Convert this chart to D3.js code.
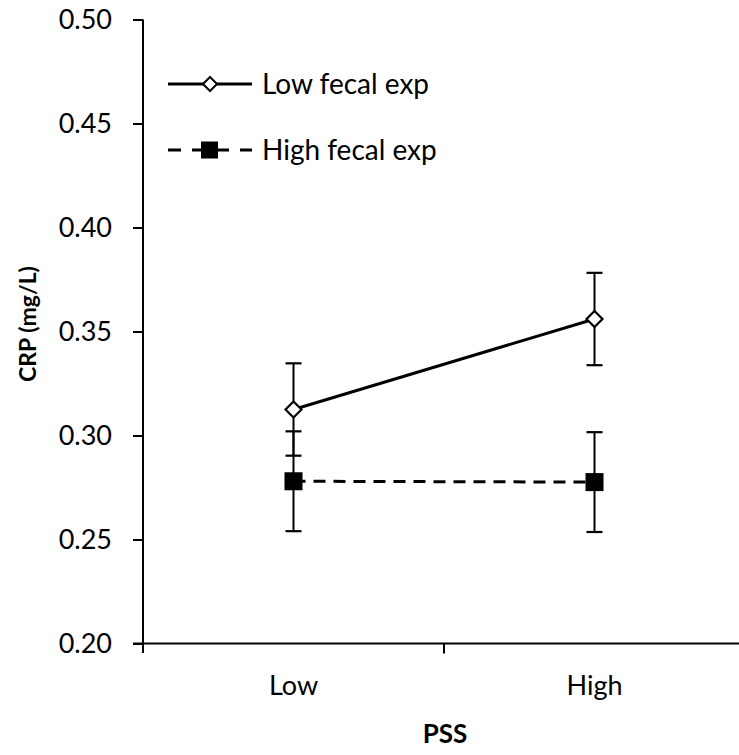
<!DOCTYPE html>
<html><head><meta charset="utf-8">
<script src="https://cdn.jsdelivr.net/npm/d3@7"></script>
<style>body{margin:0;background:#fff}</style>
</head><body>
<svg id="c" width="739" height="755"></svg>
<script>
const categories = ["Low", "High"];
const seriesNames = ["Low fecal exp", "High fecal exp"];
const lowFecal = [0.3125, 0.3560];
const lowFecalErr = [0.0222, 0.0222];
const highFecal = [0.2780, 0.2776];
const highFecalErr = [0.0240, 0.0240];
const yTicks = [0.20, 0.25, 0.30, 0.35, 0.40, 0.45, 0.50];

const svg = d3.select("#c");
const font = "Lato, 'Open Sans', sans-serif";
const x = d3.scaleBand().domain(categories).range([143, 745]);
const y = d3.scaleLinear().domain([0.20, 0.50]).range([643.5, 19.5]);

// y axis
const ya = svg.append("g").attr("transform", "translate(143,0)")
  .call(d3.axisLeft(y).tickValues(yTicks).tickFormat(d3.format(".2f")).tickSizeOuter(0).tickSize(10).tickPadding(21));
ya.select(".domain").attr("stroke-width", 2).attr("d", `M0,${y(0.5)}V653`);
ya.selectAll(".tick line").attr("stroke-width", 2);
ya.selectAll(".tick text").style("font-family", font).style("font-size", "27px").attr("fill", "#000");

// x axis
const xa = svg.append("g").attr("transform", "translate(0,643.5)");
xa.append("line").attr("x1", 133).attr("x2", 745).attr("stroke", "#000").attr("stroke-width", 2);
const bounds = [x(categories[1])];
xa.selectAll(".tk").data(bounds).join("line").attr("x1", d => d).attr("x2", d => d)
  .attr("y1", 0).attr("y2", 10).attr("stroke", "#000").attr("stroke-width", 2);
xa.selectAll(".lbl").data(categories).join("text")
  .attr("x", d => x(d) + x.bandwidth() / 2).attr("y", 51)
  .attr("text-anchor", "middle").style("font-family", font).style("font-size", "27px").text(d => d);

// axis titles
svg.append("text").attr("x", 445).attr("y", 743).attr("text-anchor", "middle")
  .style("font-family", font).style("font-weight", "bold").style("font-size", "26px").text("PSS");
svg.append("text").attr("transform", "translate(36,324) rotate(-90)").attr("text-anchor", "middle")
  .style("font-family", font).style("font-weight", "bold").style("font-size", "23px").text("CRP (mg/L)");

const cx = d => x(d) + x.bandwidth() / 2;
const series = [
  {vals: highFecal, err: highFecalErr, dash: "12,8", marker: "square"},
  {vals: lowFecal, err: lowFecalErr, dash: null, marker: "diamond"}
];
series.forEach(s => {
  const pts = categories.map((c, i) => ({c, v: s.vals[i], e: s.err[i]}));
  const g = svg.append("g");
  pts.forEach(p => {
    g.append("line").attr("x1", cx(p.c)).attr("x2", cx(p.c)).attr("y1", y(p.v + p.e)).attr("y2", y(p.v - p.e)).attr("stroke", "#000").attr("stroke-width", 2);
    [p.v + p.e, p.v - p.e].forEach(v => g.append("line").attr("x1", cx(p.c) - 8).attr("x2", cx(p.c) + 8).attr("y1", y(v)).attr("y2", y(v)).attr("stroke", "#000").attr("stroke-width", 2.2));
  });
  svg.append("path").datum(pts).attr("fill", "none").attr("stroke", "#000").attr("stroke-width", 3)
    .attr("stroke-dasharray", s.dash).attr("d", d3.line().x(p => cx(p.c)).y(p => y(p.v)));
  pts.forEach(p => {
    if (s.marker === "square") {
      svg.append("rect").attr("x", cx(p.c) - 9).attr("y", y(p.v) - 9).attr("width", 18).attr("height", 18).attr("fill", "#000");
    } else {
      svg.append("path").attr("transform", `translate(${cx(p.c)},${y(p.v)})`).attr("d", "M0,-8L8,0L0,8L-8,0Z")
        .attr("fill", "#fff").attr("stroke", "#000").attr("stroke-width", 2.2);
    }
  });
});

// legend
const leg = svg.append("g");
[{name: seriesNames[0], dash: null, marker: "diamond", yy: 84}, {name: seriesNames[1], dash: "13,11", marker: "square", yy: 150}].forEach(l => {
  leg.append("line").attr("x1", 168).attr("x2", 252).attr("y1", l.yy).attr("y2", l.yy).attr("stroke", "#000").attr("stroke-width", 3).attr("stroke-dasharray", l.dash);
  if (l.marker === "square") leg.append("rect").attr("x", 201).attr("y", l.yy - 8.5).attr("width", 17).attr("height", 17).attr("fill", "#000");
  else leg.append("path").attr("transform", `translate(210,${l.yy})`).attr("d", "M0,-7L7,0L0,7L-7,0Z").attr("fill", "#fff").attr("stroke", "#000").attr("stroke-width", 2);
  leg.append("text").attr("x", 262).attr("y", l.yy).attr("dy", "0.35em").style("font-family", font).style("font-size", "28px").text(l.name);
});
</script>
</body></html>
